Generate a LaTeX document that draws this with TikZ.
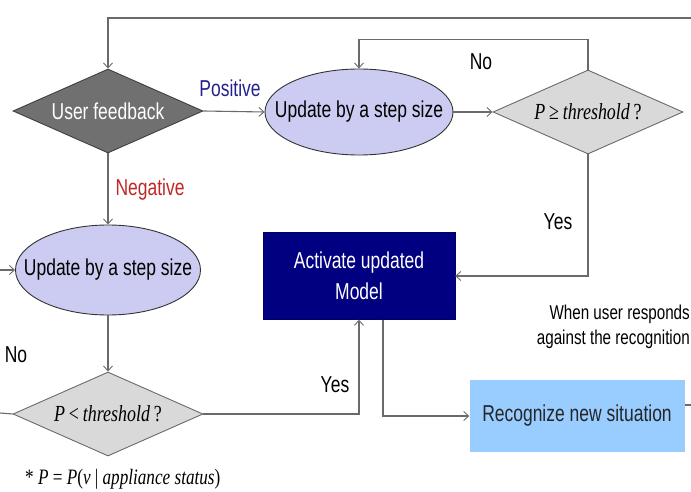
\documentclass[tikz,border=0pt]{standalone}
\usepackage{fontspec}
\setmainfont{Liberation Sans}[FakeStretch=0.76]
\newfontfamily\timesf{Liberation Serif}[FakeStretch=0.78]
\usetikzlibrary{shapes.geometric,arrows.meta}
\definecolor{linegray}{HTML}{6A6A6A}
\definecolor{fbfill}{HTML}{707070}
\definecolor{lav}{HTML}{CCCCF2}
\definecolor{dgray}{HTML}{D9D9D9}
\definecolor{navy}{HTML}{000080}
\definecolor{lblue}{HTML}{99CCFF}
\definecolor{posblue}{HTML}{22228F}
\definecolor{negred}{HTML}{C02828}
\begin{document}
\begin{tikzpicture}[x=1pt,y=-1pt,
  every node/.style={font=\fontsize{23}{31}\selectfont},
  dia/.style={diamond,draw=#1,line width=0.9pt,inner sep=0pt,minimum width=190pt,minimum height=84pt},
  ell/.style={ellipse,draw=black!80,fill=lav,line width=0.9pt,inner sep=0pt},
  conn/.style={draw=linegray,line width=1.1pt},
  arr/.style={conn,-{Straight Barb[length=5pt,width=9pt,line width=0.9pt]}},
  lbl/.style={inner sep=0pt}
]
\useasboundingbox (0,0) rectangle (691,492);

% nodes
\node[dia=black!75,fill=fbfill,text=white] (fb) at (108,111) {\makebox[0pt]{User feedback}};
\node[ell,minimum width=188pt,minimum height=86pt] (up1) at (359,112) {\makebox[0pt]{Update by a step size}};
\node[dia=linegray,fill=dgray] (d2) at (588,112) {\makebox[0pt]{\timesf\itshape P\,\upshape≥\,\itshape threshold\,\upshape?}};
\node[ell,minimum width=185pt,minimum height=90pt] (up2) at (108,270) {\makebox[0pt]{Update by a step size}};
\node[dia=linegray,fill=dgray] (d3) at (108,414) {\makebox[0pt]{\timesf\itshape P\,\upshape<\,\itshape threshold\,\upshape?}};
\node[draw=navy!80!black,fill=navy,text=white,minimum width=192pt,minimum height=87pt,align=center,inner sep=0pt] (act) at (359,276) {Activate updated\\Model};
\node[fill=lblue,minimum width=215pt,minimum height=72pt,inner sep=0pt,text=black!85] (rec) at (577,416) {Recognize new situation};

% free ends
\coordinate (topR) at (691,18);
\coordinate (recR) at (691,405);
\coordinate (leftIn) at (0,270);
\coordinate (leftOut) at (0,413);

% connectors
\draw[arr] (topR) -| (fb.north);
\draw[conn] (rec.east |- recR) -- (recR);
\draw[arr] (fb.east) -- (up1.west);
\draw[arr] (up1.east) -- (d2.west);
\draw[arr] (d2.north) -- ++(0,-30) -| (up1.north);
\draw[arr] (d2.south) |- (act.east);
\draw[arr] (fb.south) -- (up2.north);
\draw[arr] (leftIn) -- (up2.west);
\draw[arr] (up2.south) -- (d3.north);
\draw[conn] (d3.west) -- (leftOut);
\draw[arr] (d3.east) -| (act.south);
\draw[arr] ([xshift=24pt]act.south) |- (rec.west);

% labels
\node[lbl,text=posblue] (lpos) at (230,88) {Positive};
\node[lbl] (lno1) at (481,62) {No};
\node[lbl] (lyes1) at (558,222) {Yes};
\node[lbl,text=negred] (lneg) at (150,190) {Negative};
\node[lbl] (lno2) at (16,355) {No};
\node[lbl] (lyes2) at (335,385) {Yes};
\node[lbl,anchor=east,align=right,font=\fontsize{20}{25}\selectfont] (lwhen) at (690,327) {When user responds\\against the recognition};
\node[lbl,anchor=west,font=\fontsize{22}{26}\selectfont\timesf] (lfoot) at (25,479) {* \textit{P} = \textit{P}(\textit{v} | \textit{appliance status})};
\end{tikzpicture}
\end{document}
